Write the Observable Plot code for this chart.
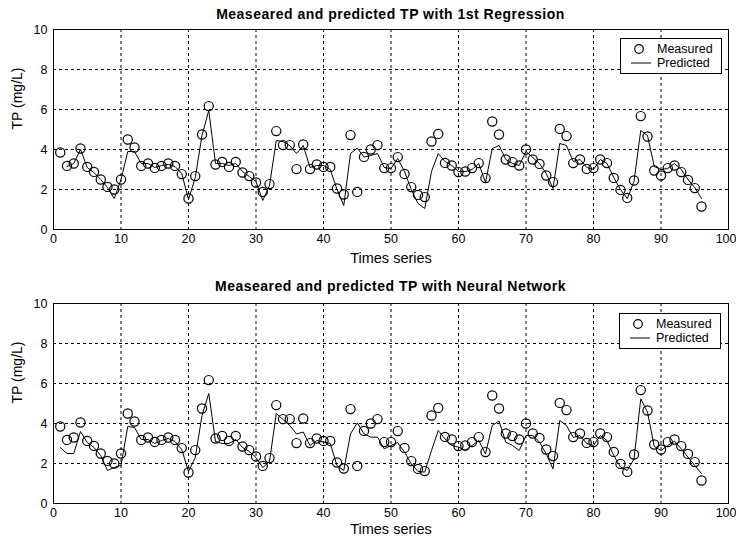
<!DOCTYPE html>
<html>
<head>
<meta charset="utf-8">
<script src="https://cdn.jsdelivr.net/npm/d3@7"></script>
<script src="https://cdn.jsdelivr.net/npm/@observablehq/plot@0.6"></script>
<style>
  html, body { margin: 0; padding: 0; background: #fff; }
  #root { position: relative; width: 736px; height: 542px; font-family: Arial, "Liberation Sans", sans-serif; color: #000; }
  .title { position: absolute; left: 0; width: 781px; text-align: center; font-weight: bold; font-size: 14px; letter-spacing: 0.5px; line-height: 16px; }
  .panel { position: absolute; left: 0; }
  .legend { position: absolute; background: #fff; border: 1px solid #000; box-sizing: border-box; }
  .legend svg { display: block; }
</style>
</head>
<body>
<div id="root"></div>
<script>
// Sample index (time series position)
const times = [1,2,3,4,5,6,7,8,9,10,11,12,13,14,15,16,17,18,19,20,21,22,23,24,25,26,27,28,29,30,
  31,32,33,34,35,36,37,38,39,40,41,42,43,44,45,46,47,48,49,50,51,52,53,54,55,56,57,58,59,60,
  61,62,63,64,65,66,67,68,69,70,71,72,73,74,75,76,77,78,79,80,81,82,83,84,85,86,87,88,89,90,
  91,92,93,94,95,96];

// Measured TP (mg/L)
const measured = [3.85,3.18,3.3,4.05,3.13,2.88,2.5,2.13,2.0,2.5,4.5,4.1,3.18,3.3,3.08,3.18,3.3,3.18,2.77,1.55,
  2.67,4.75,6.17,3.25,3.38,3.13,3.38,2.85,2.67,2.35,1.88,2.27,4.92,4.22,4.22,3.02,4.25,3.02,3.25,3.13,
  3.13,2.05,1.75,4.72,1.88,3.63,4.0,4.22,3.07,3.07,3.62,2.78,2.12,1.73,1.62,4.4,4.78,3.33,3.2,2.87,
  2.9,3.07,3.32,2.57,5.4,4.75,3.5,3.37,3.2,4.0,3.5,3.28,2.7,2.37,5.03,4.67,3.32,3.5,3.03,3.07,
  3.5,3.32,2.58,1.98,1.58,2.45,5.67,4.65,2.95,2.7,3.07,3.2,2.87,2.48,2.07,1.15];

// Predicted TP, first-order regression (no prediction for the first sample)
const regression = [null,3.15,3.3,4.0,3.1,2.85,2.5,2.1,1.55,2.5,3.9,3.9,3.3,3.3,3.1,3.2,3.25,3.15,2.8,1.5,
  2.6,4.7,5.95,3.3,3.3,3.2,3.3,2.9,2.65,2.4,1.45,2.2,4.45,4.4,4.2,3.8,4.2,3.1,3.2,3.2,
  3.0,2.0,1.2,3.8,4.07,3.62,3.7,3.8,3.1,3.05,3.55,2.9,2.0,1.3,1.05,2.9,3.8,3.4,3.2,2.9,
  2.9,3.0,3.3,2.35,4.05,4.2,3.5,3.3,3.2,3.9,3.6,3.3,2.8,2.05,4.3,4.2,3.4,3.5,3.1,3.0,
  3.5,3.3,2.6,2.0,1.55,2.4,4.95,4.7,3.15,3.0,3.05,3.3,3.0,2.5,2.1,1.55];

// Predicted TP, neural network
const neural = [2.8,2.5,2.5,3.6,3.05,2.8,2.4,1.65,1.8,1.9,3.85,3.8,3.2,3.2,3.0,3.15,3.25,3.1,2.7,1.6,
  2.3,4.4,5.5,3.1,3.0,3.0,3.2,2.8,2.6,2.3,1.8,2.1,4.5,4.2,3.9,3.48,3.57,2.9,3.15,3.07,
  3.0,1.9,1.65,3.48,4.03,3.48,3.32,3.32,2.73,2.9,3.05,2.57,1.98,1.6,1.57,2.65,3.65,3.23,2.9,2.82,
  2.65,2.9,3.15,2.48,3.9,4.12,3.07,2.9,2.65,3.4,3.4,3.07,2.48,1.73,4.15,3.9,3.3,3.4,3.0,2.9,
  3.4,3.15,2.4,1.82,1.65,2.23,5.23,4.57,2.85,2.65,2.9,3.12,2.73,2.32,1.9,1.5];

const xTicks = [0,10,20,30,40,50,60,70,80,90,100];
const yTicks = [0,2,4,6,8,10];
const titles = ["Measeared and predicted TP with 1st Regression", "Measeared and predicted TP with Neural Network"];
const legendLabels = ["Measured", "Predicted"];

function panel(pred, svgHeight, xLabelDy) {
  const rows = times.map((t, i) => ({t, meas: measured[i], pred: pred[i]}));
  const grid = {stroke: "#000", strokeOpacity: 1, strokeWidth: 1, strokeDasharray: "3,3"};
  const inner = xTicks.slice(0, -1);
  const last = xTicks.slice(-1);
  return Plot.plot({
    width: 736,
    height: svgHeight,
    marginLeft: 53,
    marginRight: 8,
    marginTop: 7,
    marginBottom: svgHeight - 207,
    style: {fontFamily: "Arial, 'Liberation Sans', sans-serif", fontSize: "12.5px", color: "#000", background: "transparent", overflow: "visible"},
    x: {domain: [0, 100]},
    y: {domain: [0, 10]},
    marks: [
      Plot.gridX(xTicks, grid),
      Plot.gridY(yTicks, grid),
      Plot.frame({stroke: "#000", strokeWidth: 1}),
      Plot.axisX(inner, {tickSize: 0, tickPadding: 5, label: null}),
      // the right-most label sits against the page edge, so it is pulled in a little
      Plot.axisX(last, {tickSize: 0, tickPadding: 5, label: null, textAnchor: "end", dx: 8}),
      Plot.axisY(yTicks, {tickSize: 0, tickPadding: 6, label: null}),
      Plot.line(rows, {x: "t", y: "pred", stroke: "#000", strokeWidth: 1, defined: d => d.pred != null}),
      Plot.dot(rows, {x: "t", y: "meas", r: 4.6, stroke: "#000", strokeWidth: 1.2, fill: "none"}),
      Plot.text(["Times series"], {frameAnchor: "bottom", dy: xLabelDy, fontSize: 14.5}),
      Plot.text(["TP (mg/L)"], {frameAnchor: "left", dx: -36, rotate: -90, fontSize: 14})
    ]
  });
}

function legend(left, top) {
  const div = document.createElement("div");
  div.className = "legend";
  div.style.left = left + "px";
  div.style.top = top + "px";
  div.style.width = "102px";
  div.style.height = "36px";
  div.innerHTML = `<svg width="100" height="34" font-family="Arial, 'Liberation Sans', sans-serif" font-size="12.5">
    <circle cx="18" cy="10" r="4.3" fill="none" stroke="#000" stroke-width="1.2"></circle>
    <text x="36" y="10" dy="0.35em">${legendLabels[0]}</text>
    <line x1="10" x2="30" y1="24" y2="24" stroke="#000" stroke-width="1"></line>
    <text x="36" y="24" dy="0.35em">${legendLabels[1]}</text>
  </svg>`;
  return div;
}

const root = document.getElementById("root");

const t1 = document.createElement("div");
t1.className = "title"; t1.style.top = "6px"; t1.textContent = titles[0];
const p1 = document.createElement("div");
p1.className = "panel"; p1.style.top = "22px";
p1.append(panel(regression, 252, 33));

const t2 = document.createElement("div");
t2.className = "title"; t2.style.top = "278px"; t2.textContent = titles[1];
const p2 = document.createElement("div");
p2.className = "panel"; p2.style.top = "296px";
p2.append(panel(neural, 246, 30));

root.append(p1, t1, legend(620, 38), p2, t2, legend(619, 313));
</script>
</body>
</html>
